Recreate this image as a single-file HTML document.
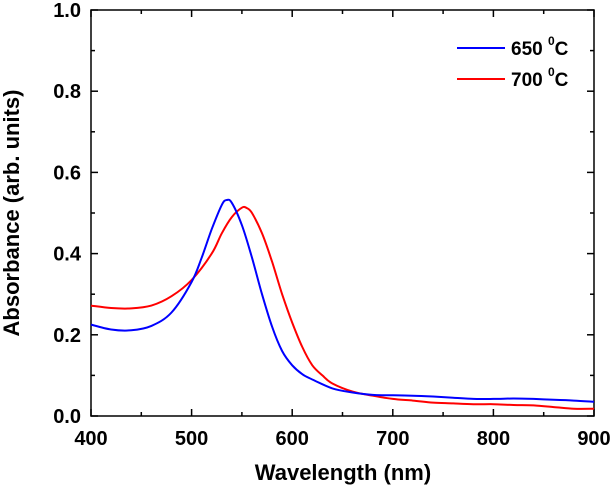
<!DOCTYPE html>
<html><head><meta charset="utf-8"><style>
body{margin:0;background:#fff}
svg text{font-family:"Liberation Sans",Arial,sans-serif;font-weight:bold;fill:#000}
</style></head><body>
<svg id="chart" width="613" height="489" viewBox="0 0 613 489" xmlns="http://www.w3.org/2000/svg">
<g id="axes"></g>
<g id="series"></g>
<g id="legend">
  <line x1="457" y1="48" x2="505" y2="48" stroke="#0000ff" stroke-width="2"/>
  <text x="511" y="55" font-size="19">650 <tspan font-size="12" dy="-10">0</tspan><tspan dy="10">C</tspan></text>
  <line x1="457" y1="79" x2="505" y2="79" stroke="#ff0000" stroke-width="2"/>
  <text x="511" y="86" font-size="19">700 <tspan font-size="12" dy="-10">0</tspan><tspan dy="10">C</tspan></text>
</g>
<text x="343" y="480" font-size="22" text-anchor="middle">Wavelength (nm)</text>
<text transform="translate(19,213) rotate(-90)" font-size="22" text-anchor="middle">Absorbance (arb. units)</text>
</svg>
<script>
const wl650 = [400,420,440,460,480,500,510,520,530,535,540,550,560,570,580,590,600,610,620,640,660,680,700,720,740,760,780,800,820,840,860,880,900];
const abs650 = [0.225,0.213,0.211,0.222,0.255,0.33,0.39,0.46,0.52,0.532,0.525,0.47,0.39,0.30,0.22,0.16,0.125,0.103,0.09,0.068,0.058,0.052,0.051,0.05,0.048,0.045,0.042,0.042,0.043,0.042,0.04,0.038,0.035];
const wl700 = [400,420,440,460,480,500,520,530,540,550,555,560,570,580,590,600,610,620,630,640,660,680,700,720,740,760,780,800,820,840,860,880,900];
const abs700 = [0.272,0.266,0.265,0.272,0.295,0.335,0.40,0.45,0.49,0.513,0.512,0.50,0.45,0.38,0.30,0.23,0.17,0.125,0.10,0.08,0.06,0.05,0.042,0.038,0.033,0.031,0.029,0.029,0.027,0.026,0.022,0.018,0.018];
const xTicks = [400,500,600,700,800,900];
const yTicks = [0.0,0.2,0.4,0.6,0.8,1.0];
const L=91,R=594,T=10,B=416;
function sx(v){return L+(v-400)/(900-400)*(R-L);}
function sy(v){return B-(v-0)/(1-0)*(B-T);}
const NS="http://www.w3.org/2000/svg";
const axes=document.getElementById('axes');
function mk(tag,attrs,parent){const e=document.createElementNS(NS,tag);for(const k in attrs)e.setAttribute(k,attrs[k]);parent.appendChild(e);return e;}
const frame=mk('rect',{x:L,y:T,width:R-L,height:B-T,fill:'none',stroke:'#000','stroke-width':1.5},axes);


for(let v=400;v<=900;v+=50){const x=sx(v);const len=(v%100===0)?7:4;
 const t1=mk('line',{x1:x,y1:B,x2:x,y2:B-len,stroke:'#000','stroke-width':1.5},axes);
 
 
 const t2=mk('line',{x1:x,y1:T,x2:x,y2:T+len,stroke:'#000','stroke-width':1.5},axes);
 
 }
for(let i=0;i<=10;i++){const v=i/10;const y=sy(v);const len=(i%2===0)?7:4;
 const t1=mk('line',{x1:L,y1:y,x2:L+len,y2:y,stroke:'#000','stroke-width':1.5},axes);
 
 
 const t2=mk('line',{x1:R,y1:y,x2:R-len,y2:y,stroke:'#000','stroke-width':1.5},axes);
 
 }
xTicks.forEach(v=>{const t=mk('text',{x:sx(v),y:B+29,'font-size':20,'text-anchor':'middle'},axes);t.textContent=String(v);
 
 });
yTicks.forEach(v=>{const t=mk('text',{x:L-10,y:sy(v)+7,'font-size':20,'text-anchor':'end'},axes);t.textContent=v.toFixed(1);
 
 });
const ser=document.getElementById('series');
function line(xs,ys,color,name){
 const P=xs.map((x,i)=>[sx(x),sy(ys[i])]);
 let d='M'+P[0][0].toFixed(1)+' '+P[0][1].toFixed(1);
 for(let i=0;i<P.length-1;i++){
  const p0=P[Math.max(0,i-1)],p1=P[i],p2=P[i+1],p3=P[Math.min(P.length-1,i+2)];
  const c1=[p1[0]+(p2[0]-p0[0])/6,p1[1]+(p2[1]-p0[1])/6];
  const c2=[p2[0]-(p3[0]-p1[0])/6,p2[1]-(p3[1]-p1[1])/6];
  d+=' C'+c1[0].toFixed(1)+' '+c1[1].toFixed(1)+' '+c2[0].toFixed(1)+' '+c2[1].toFixed(1)+' '+p2[0].toFixed(1)+' '+p2[1].toFixed(1);
 }
 const p=mk('path',{d:d,fill:'none',stroke:color,'stroke-width':2,'stroke-linejoin':'round'},ser);
 
 }
line(wl700,abs700,'#ff0000','series-700c');
line(wl650,abs650,'#0000ff','series-650c');
</script>
</body></html>
